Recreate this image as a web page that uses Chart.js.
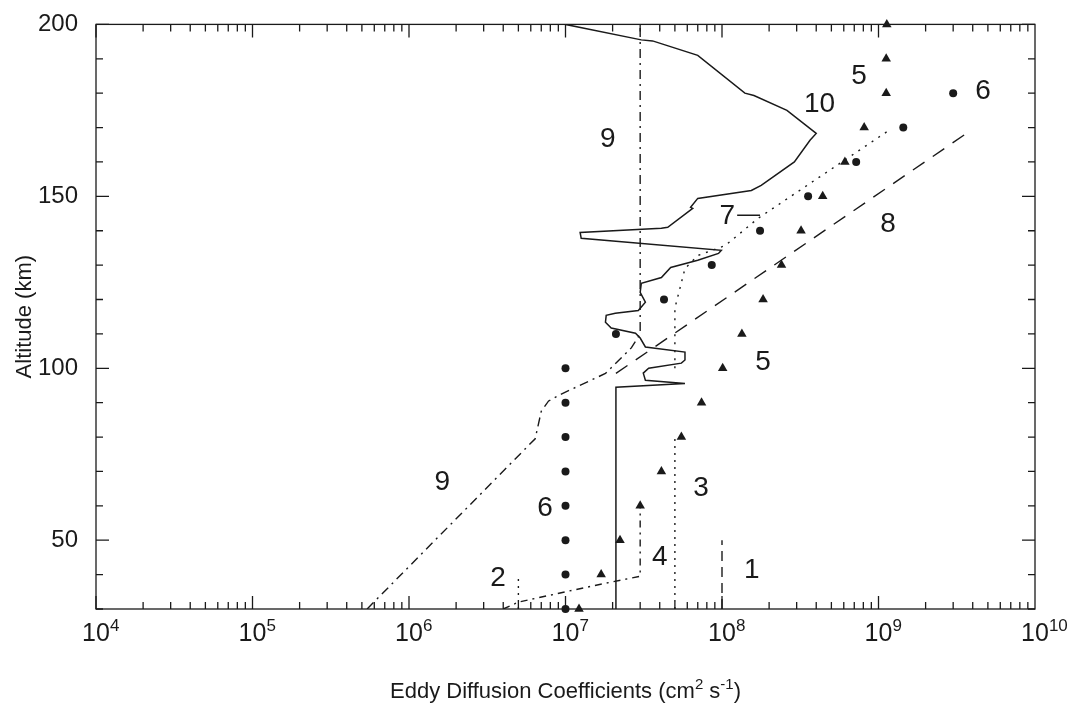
<!DOCTYPE html>
<html>
<head>
<meta charset="utf-8">
<title>Eddy diffusion coefficients</title>
<script src="https://cdn.jsdelivr.net/npm/chart.js@4/dist/chart.umd.min.js"></script>
<style>
  body { margin: 0; background: #fff; }
  #wrap { width: 1067px; height: 709px; }
</style>
</head>
<body>
<div id="wrap"><canvas id="grafica" width="1067" height="709"></canvas></div>
<script>
// ejes
const decadas = [1e4, 1e5, 1e6, 1e7, 1e8, 1e9, 1e10];
const altTicks = [50, 100, 150, 200];

// curva 10 (continua)
const c10K = [1.0e7, 3.05e7, 3.6e7, 7.0e7, 1.4e8, 1.6e8, 2.6e8, 4.0e8, 3.65e8, 2.9e8, 1.78e8, 1.54e8, 7.0e7, 6.3e7, 6.5e7, 4.5e7, 4.1e7, 1.24e7, 1.26e7, 9.9e7, 9.5e7, 7.0e7, 4.7e7, 4.1e7, 3.05e7, 3.0e7, 3.24e7, 2.92e7, 2.08e7, 1.82e7, 1.8e7, 1.96e7, 2.8e7, 3.0e7, 3.24e7, 5.8e7, 5.8e7, 5.5e7, 3.4e7, 3.14e7, 3.24e7, 5.8e7, 2.1e7, 2.1e7];
const c10Alt = [200, 195.5, 195.2, 191, 180, 179.3, 175, 168.3, 166.3, 160, 153.2, 151.7, 149.4, 146.8, 146.5, 141, 140.7, 139.5, 137.8, 134.3, 133.4, 131.4, 129.3, 126.4, 124.7, 122.1, 119.2, 116.8, 116, 115.4, 113.4, 111.7, 110.2, 108.8, 106.2, 104.7, 102.4, 101.5, 100, 98.6, 96.5, 95.6, 94.5, 30];

// curva 9 (raya-punto)
const c9K = [5.4e5, 6.4e6, 7.0e6, 7.8e6, 9.4e6, 1.8e7, 2.64e7, 3.0e7, 3.0e7];
const c9Alt = [30, 79.5, 87.5, 90.5, 92.5, 98.5, 106, 110, 200];

// curva 8 (rayas)
const c8K = [2.1e7, 3.7e9];
const c8Alt = [98.5, 168.5];

// curva 7 (puntos)
const c7K = [5e7, 5e7, 5.8e7, 7.0e7, 1.05e8, 1.7e8, 1.15e9];
const c7Alt = [100, 117.5, 129, 132.8, 135.7, 143.6, 169];
const c7MarcaK = [1.25e8, 1.75e8];
const c7MarcaAlt = [144.5, 144.5];

// curvas 1-4 (bajas)
const c1K = [1e8, 1e8];
const c1Alt = [30, 50];
const c2K = [5e6, 5e6];
const c2Alt = [30, 40];
const c3K = [5e7, 5e7];
const c3Alt = [30, 80];
const c4K = [4e6, 5e6, 1e7, 1.8e7, 3e7, 3e7];
const c4Alt = [30, 32, 35, 37.5, 39.5, 60];

// serie 5 (triangulos)
const s5Alt = [30, 40, 50, 60, 70, 80, 90, 100, 110, 120, 130, 140, 150, 160, 170, 180, 190, 200];
const s5K = [1.22e7, 1.69e7, 2.23e7, 3.0e7, 4.1e7, 5.5e7, 7.4e7, 1.01e8, 1.34e8, 1.83e8, 2.4e8, 3.2e8, 4.4e8, 6.1e8, 8.1e8, 1.12e9, 1.12e9, 1.13e9];

// serie 6 (circulos)
const s6Alt = [30, 40, 50, 60, 70, 80, 90, 100, 110, 120, 130, 140, 150, 160, 170, 180];
const s6K = [1e7, 1e7, 1e7, 1e7, 1e7, 1e7, 1e7, 1e7, 2.1e7, 4.26e7, 8.6e7, 1.75e8, 3.55e8, 7.2e8, 1.44e9, 3.0e9];

// etiquetas de las curvas
const etiquetaTexto = ['9', '10', '5', '6', '7', '8', '5', '3', '4', '1', '2', '6', '9'];
const etiquetaK = [1.86e7, 4.2e8, 7.5e8, 4.66e9, 1.08e8, 1.15e9, 1.83e8, 7.35e7, 4.0e7, 1.55e8, 3.7e6, 7.4e6, 1.63e6];
const etiquetaAlt = [166.6, 176.8, 184.9, 180.6, 144.3, 142, 101.7, 65.1, 45.1, 41.3, 39, 59.3, 66.8];

const puntos = (xs, ys) => xs.map((x, i) => ({ x: x, y: ys[i] }));
const tinta = '#1a1a1a';
const fuente = '"Liberation Sans", Arial, sans-serif';

function linea(xs, ys, dash, ancho) {
  return {
    data: puntos(xs, ys),
    showLine: true,
    borderColor: tinta,
    borderWidth: ancho || 1.4,
    borderDash: dash,
    pointRadius: 0,
    fill: false,
    tension: 0
  };
}

// texto con exponente: partes [texto, esSuper], empieza en x
function textoSup(c, partes, x, y, tam) {
  const tamSup = Math.round(tam * 0.68);
  let px = x;
  c.textAlign = 'left';
  c.textBaseline = 'alphabetic';
  partes.forEach(p => {
    c.font = (p[1] ? tamSup : tam) + 'px ' + fuente;
    c.fillText(p[0], px, p[1] ? y - tam * 0.42 : y);
    px += c.measureText(p[0]).width;
  });
}

function anchoSup(c, partes, tam) {
  const tamSup = Math.round(tam * 0.68);
  let total = 0;
  partes.forEach(p => {
    c.font = (p[1] ? tamSup : tam) + 'px ' + fuente;
    total += c.measureText(p[0]).width;
  });
  return total;
}

// ticks hacia dentro, marco, etiquetas del eje x y textos
const marcoPlugin = {
  id: 'marco',
  afterDraw(chart) {
    const c = chart.ctx;
    const a = chart.chartArea;
    const sx = chart.scales.x;
    const sy = chart.scales.y;
    c.save();
    c.strokeStyle = tinta;
    c.lineWidth = 1.3;
    c.strokeRect(a.left, a.top, a.right - a.left, a.bottom - a.top);

    c.beginPath();
    for (let e = 4; e <= 9; e++) {
      for (let m = 1; m <= 9; m++) {
        const px = sx.getPixelForValue(m * Math.pow(10, e));
        const largo = m === 1 ? 13 : 7;
        c.moveTo(px, a.bottom); c.lineTo(px, a.bottom - largo);
        c.moveTo(px, a.top); c.lineTo(px, a.top + largo);
      }
    }
    for (let v = 30; v <= 200; v += 10) {
      const py = sy.getPixelForValue(v);
      const largo = v % 50 === 0 ? 13 : 7;
      c.moveTo(a.left, py); c.lineTo(a.left + largo, py);
      c.moveTo(a.right, py); c.lineTo(a.right - largo, py);
    }
    c.stroke();

    c.fillStyle = tinta;
    // etiquetas del eje x: 10^n, con el "10" centrado en la marca
    c.font = '25px ' + fuente;
    const ancho10 = c.measureText('10').width;
    decadas.forEach(v => {
      const exp = String(Math.round(Math.log10(v)));
      textoSup(c, [['10', false], [exp, true]], sx.getPixelForValue(v) - ancho10 / 2, a.bottom + 32, 25);
    });
    // titulo del eje x
    const titulo = [['Eddy Diffusion Coefficients (cm', false], ['2', true], [' s', false], ['-1', true], [')', false]];
    textoSup(c, titulo, (a.left + a.right) / 2 - anchoSup(c, titulo, 22) / 2, 698, 22);

    c.font = '28px ' + fuente;
    c.textAlign = 'center';
    c.textBaseline = 'middle';
    etiquetaTexto.forEach((t, i) => {
      c.fillText(t, sx.getPixelForValue(etiquetaK[i]), sy.getPixelForValue(etiquetaAlt[i]));
    });
    c.restore();
  }
};

const ctx = document.getElementById('grafica').getContext('2d');

const grafica = new Chart(ctx, {
  type: 'scatter',
  data: {
    datasets: [
      linea(c10K, c10Alt, [], 1.5),
      linea(c9K, c9Alt, [9, 5, 2, 5]),
      linea(c8K, c8Alt, [14, 10]),
      linea(c7K, c7Alt, [2, 6]),
      linea(c7MarcaK, c7MarcaAlt, [], 1.5),
      linea(c1K, c1Alt, [10, 6]),
      linea(c2K, c2Alt, [2, 5]),
      linea(c3K, c3Alt, [2, 5]),
      linea(c4K, c4Alt, [7, 5, 2, 5]),
      {
        data: puntos(s5K, s5Alt),
        pointStyle: 'triangle',
        pointRadius: 5.5,
        backgroundColor: tinta,
        borderColor: tinta,
        borderWidth: 0,
        clip: false
      },
      {
        data: puntos(s6K, s6Alt),
        pointStyle: 'circle',
        pointRadius: 4,
        backgroundColor: tinta,
        borderColor: tinta,
        borderWidth: 0,
        clip: false
      }
    ]
  },
  options: {
    responsive: false,
    animation: false,
    devicePixelRatio: 1,
    layout: { padding: { top: 23, right: 32, left: 0, bottom: 0 } },
    plugins: {
      legend: { display: false },
      tooltip: { enabled: false }
    },
    scales: {
      x: {
        type: 'logarithmic',
        min: 1e4,
        max: 1e10,
        afterBuildTicks: (s) => { s.ticks = decadas.map(v => ({ value: v })); },
        afterFit: (s) => { s.height = 100; },
        grid: { display: false },
        border: { display: false },
        ticks: { display: false }
      },
      y: {
        type: 'linear',
        min: 30,
        max: 200,
        afterBuildTicks: (s) => { s.ticks = altTicks.map(v => ({ value: v })); },
        afterFit: (s) => { s.width = 96; },
        grid: { display: false },
        border: { display: false },
        ticks: {
          padding: 10,
          color: tinta,
          font: { family: fuente, size: 24 }
        },
        title: {
          display: true,
          text: 'Altitude (km)',
          color: tinta,
          padding: { top: 12, bottom: 4 },
          font: { family: fuente, size: 22 }
        }
      }
    }
  },
  plugins: [marcoPlugin]
});
</script>
</body>
</html>
